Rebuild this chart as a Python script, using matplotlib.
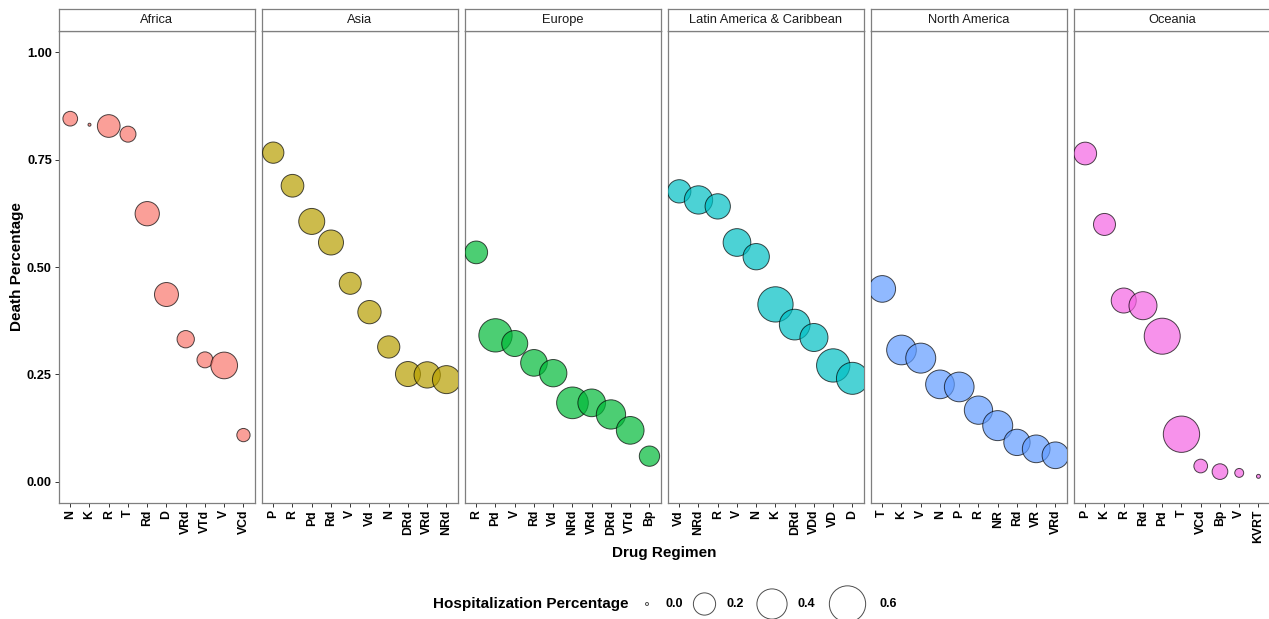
import numpy as np
import matplotlib
matplotlib.use("Agg")
import matplotlib.pyplot as plt

plt.rcParams["font.family"] = ["Liberation Sans", "DejaVu Sans"]

# ---- data ----
regions = ["Africa", "Asia", "Europe", "Latin America & Caribbean", "North America", "Oceania"]

africa_regimens = ["N", "K", "R", "T", "Rd", "D", "VRd", "VTd", "V", "VCd"]
africa_death = [0.845, 0.831, 0.828, 0.809, 0.624, 0.436, 0.332, 0.284, 0.271, 0.109]
africa_hosp = [0.074, 0.0, 0.21, 0.091, 0.245, 0.238, 0.111, 0.091, 0.303, 0.057]

asia_regimens = ["P", "R", "Pd", "Rd", "V", "Vd", "N", "DRd", "VRd", "NRd"]
asia_death = [0.766, 0.689, 0.606, 0.557, 0.462, 0.395, 0.314, 0.251, 0.249, 0.238]
asia_hosp = [0.181, 0.21, 0.286, 0.262, 0.195, 0.223, 0.20, 0.262, 0.294, 0.338]

europe_regimens = ["R", "Pd", "V", "Rd", "Vd", "NRd", "VRd", "DRd", "VTd", "Bp"]
europe_death = [0.534, 0.341, 0.322, 0.277, 0.253, 0.184, 0.184, 0.157, 0.120, 0.060]
europe_hosp = [0.21, 0.497, 0.286, 0.303, 0.32, 0.445, 0.33, 0.374, 0.33, 0.162]

latam_regimens = ["Vd", "NRd", "R", "V", "N", "K", "DRd", "VDd", "VD", "D"]
latam_death = [0.676, 0.656, 0.641, 0.557, 0.524, 0.413, 0.366, 0.336, 0.271, 0.241]
latam_hosp = [0.223, 0.346, 0.269, 0.33, 0.294, 0.564, 0.415, 0.338, 0.497, 0.455]

namerica_regimens = ["T", "K", "V", "N", "P", "R", "NR", "Rd", "VR", "VRd"]
namerica_death = [0.449, 0.307, 0.288, 0.227, 0.221, 0.167, 0.131, 0.092, 0.077, 0.062]
namerica_hosp = [0.303, 0.385, 0.394, 0.357, 0.385, 0.346, 0.394, 0.294, 0.33, 0.303]

oceania_regimens = ["P", "K", "R", "Rd", "Pd", "T", "VCd", "Bp", "V", "KVRT"]
oceania_death = [0.764, 0.599, 0.422, 0.41, 0.339, 0.111, 0.037, 0.024, 0.021, 0.013]
oceania_hosp = [0.21, 0.195, 0.262, 0.338, 0.589, 0.60, 0.062, 0.087, 0.019, 0.0005]

legend_values = [0.0, 0.2, 0.4, 0.6]
y_ticks = [0.0, 0.25, 0.50, 0.75, 1.00]

panels = [
    (africa_regimens, africa_death, africa_hosp),
    (asia_regimens, asia_death, asia_hosp),
    (europe_regimens, europe_death, europe_hosp),
    (latam_regimens, latam_death, latam_hosp),
    (namerica_regimens, namerica_death, namerica_hosp),
    (oceania_regimens, oceania_death, oceania_hosp),
]
colors = ["#F8766D", "#B79F00", "#00BA38", "#00BFC4", "#619CFF", "#F564E3"]

# ---- layout (pixels) ----
W, H, DPI = 1269, 619, 100
PX = 72.0 / DPI
panel_left, panel_w, panel_gap = 58.7, 196.3, 6.7
panel_top, panel_bottom, strip_top = 31.0, 503.0, 9.3
border = "#7f7f7f"


def size_pts(h):
    # ggplot-style area scale: diameter grows with sqrt(value)
    d_px = 3.0 + 43.0 * np.sqrt(np.asarray(h))
    return (d_px * PX) ** 2


fig = plt.figure(figsize=(W / DPI, H / DPI), dpi=DPI)

for i, (region, (regs, death, hosp)) in enumerate(zip(regions, panels)):
    x0 = panel_left + i * (panel_w + panel_gap)
    ax = fig.add_axes([x0 / W, 1 - panel_bottom / H, panel_w / W, (panel_bottom - panel_top) / H])
    xs = np.arange(len(regs))
    ax.scatter(xs, death, s=size_pts(hosp), facecolor=colors[i], alpha=0.7,
               edgecolor="black", linewidth=0.7, zorder=3)
    ax.set_xlim(-0.6, len(regs) - 0.4)
    ax.set_ylim(-0.049, 1.049)
    ax.set_xticks(xs)
    ax.set_xticklabels(regs, rotation=90, fontsize=8.8, fontweight="bold", color="black")
    ax.set_yticks(y_ticks)
    if i == 0:
        ax.set_yticklabels(["0.00", "0.25", "0.50", "0.75", "1.00"], fontsize=9.2,
                           fontweight="bold", color="black")
    else:
        ax.tick_params(axis="y", left=False, labelleft=False)
    ax.tick_params(length=3, width=0.7, color="#333333", pad=2)
    for sp in ax.spines.values():
        sp.set_color(border)
        sp.set_linewidth(0.9)

    # facet strip
    sax = fig.add_axes([x0 / W, 1 - panel_top / H, panel_w / W, (panel_top - strip_top) / H])
    sax.set_xticks([])
    sax.set_yticks([])
    for sp in sax.spines.values():
        sp.set_color(border)
        sp.set_linewidth(0.9)
    sax.text(0.5, 0.5, region, ha="center", va="center", fontsize=9.3,
             color="#1a1a1a", transform=sax.transAxes)

fig.text(17 / W, 1 - 267 / H, "Death Percentage", rotation=90, ha="center", va="center",
         fontsize=11, fontweight="bold")
fig.text(664 / W, 1 - 553 / H, "Drug Regimen", ha="center", va="center",
         fontsize=11, fontweight="bold")

# ---- size legend ----
lax = fig.add_axes([0, 0, 1, 1], facecolor="none")
lax.set_xlim(0, W)
lax.set_ylim(H, 0)
lax.axis("off")
legend_y = 604
key_x = [647, 704.5, 772, 847.5]
label_x = [665, 726.5, 798, 879]
lax.text(433, legend_y, "Hospitalization Percentage", ha="left", va="center",
         fontsize=11, fontweight="bold")
lax.scatter(key_x, [legend_y] * len(legend_values), s=size_pts(legend_values),
            facecolor="white", edgecolor=(0, 0, 0, 0.7), linewidth=0.7)
for lx, v in zip(label_x, legend_values):
    lax.text(lx, legend_y, f"{v:.1f}", ha="left", va="center", fontsize=9, fontweight="bold")

fig.savefig("out.png", dpi=DPI)
